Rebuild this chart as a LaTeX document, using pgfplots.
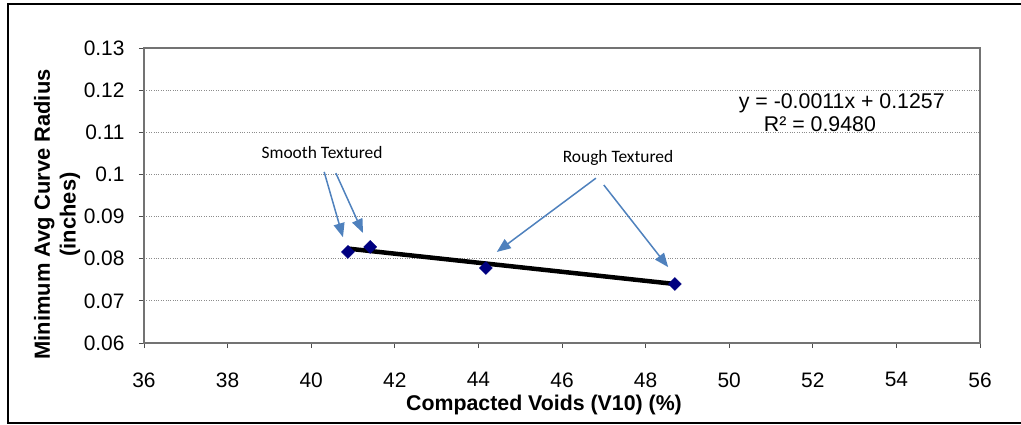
\documentclass[border=0pt]{standalone}
\usepackage{pgfplots}
\pgfplotsset{compat=1.18}
\usepackage{fontspec}
\setmainfont{Liberation Sans}
\newfontfamily\calibri{Carlito}
\usetikzlibrary{arrows.meta}
\definecolor{navy}{RGB}{0,0,128}
\definecolor{arrowblue}{RGB}{79,129,189}
\begin{document}
\begin{tikzpicture}[x=1bp,y=1bp]
\begin{axis}[
  scale only axis,
  width=836bp, height=295bp,
  xmin=36, xmax=56, ymin=0.06, ymax=0.13,
  xtick={36,38,...,56},
  ytick={0.06,0.07,...,0.13},
  yticklabels={0.06,0.07,0.08,0.09,0.1,0.11,0.12,0.13},
  /pgf/number format/assume math mode=true,
  tick label style={font=\fontsize{21}{24}\selectfont},
  tick align=outside,
  tick pos=left,
  major tick length=5bp,
  tick style={black!70, line width=0.8bp},
  axis line style={black!55, line width=1.2bp},
  ymajorgrids,
  grid style={black!45, dotted, line width=0.8bp},
  xticklabel style={yshift=-21bp},
  every y tick label/.append style={xshift=-11bp},
  clip=false,
]
% trend line
\addplot[black, line width=4.5bp, forget plot] coordinates {(40.88,0.0824) (48.70,0.0740)};
% data
\addplot[only marks, mark=square*, mark size=4.6bp, mark options={fill=navy, draw=navy, rotate=45}] coordinates {
(40.88,0.0816) (41.41,0.0828) (44.18,0.0778) (48.70,0.0740)};
% annotations
\draw[arrowblue, line width=1.5bp, -{Triangle[length=14bp,width=11bp]}] (axis cs:40.31,0.1006) -- (axis cs:40.76,0.0851);
\draw[arrowblue, line width=1.5bp, -{Triangle[length=14bp,width=11bp]}] (axis cs:40.59,0.1003) -- (axis cs:41.24,0.0861);
\draw[arrowblue, line width=1.5bp, -{Triangle[length=14bp,width=11bp]}] (axis cs:46.81,0.0991) -- (axis cs:44.44,0.0816);
\draw[arrowblue, line width=1.5bp, -{Triangle[length=14bp,width=11bp]}] (axis cs:47.00,0.0975) -- (axis cs:48.54,0.0780);
\node[font=\calibri\fontsize{17.5}{21}\selectfont] at (axis cs:40.26,0.1053) {Smooth Textured};
\node[font=\calibri\fontsize{17.5}{21}\selectfont] at (axis cs:47.34,0.1039) {Rough Textured};
\node[anchor=east, font=\fontsize{21.4}{24}\selectfont, inner sep=0pt] at (axis cs:55.16,0.1169) {y = -0.0011x + 0.1257};
\node[font=\fontsize{21.4}{24}\selectfont, inner sep=0pt] at (axis cs:52.17,0.1120) {R² = 0.9480};
\node[font=\bfseries\fontsize{21.4}{24}\selectfont, inner sep=0pt] at (axis cs:45.57,0.0452) {Compacted Voids (V10) (\%)};
\node[rotate=90, font=\bfseries\fontsize{22}{26}\selectfont, align=center] at (axis cs:33.92,0.0905) {Minimum Avg Curve Radius\\(inches)};
\end{axis}
\useasboundingbox ([shift={(-144bp,-82bp)}]current axis.south west) rectangle ([shift={(41bp,48bp)}]current axis.north east);
\draw[black, line width=2.2bp] ([shift={(41bp,44bp)}]current axis.north east) -- ([shift={(-136bp,44bp)}]current axis.north west) -- ([shift={(-136bp,-80bp)}]current axis.south west) -- ([shift={(41bp,-80bp)}]current axis.south east);
\end{tikzpicture}
\end{document}
